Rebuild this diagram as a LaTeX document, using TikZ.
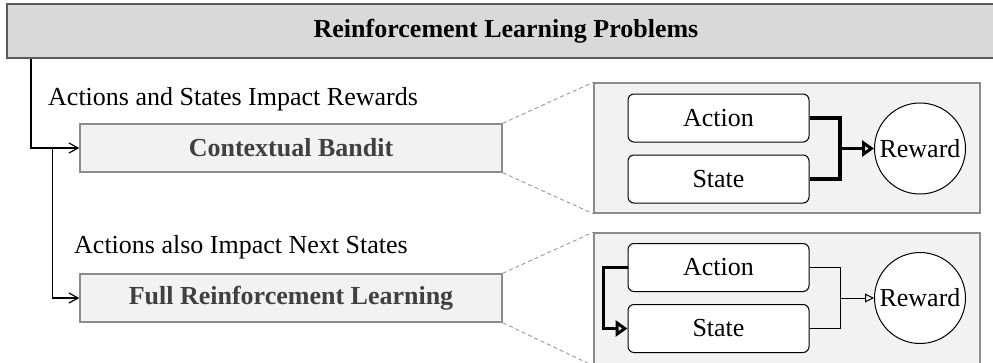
\documentclass[tikz,border=0pt]{standalone}
\usepackage{fontspec}
\setmainfont{Liberation Serif}
\usetikzlibrary{arrows.meta,positioning}
\definecolor{barfill}{HTML}{D9D9D9}
\definecolor{bardraw}{HTML}{5A5A5A}
\definecolor{boxfill}{HTML}{F2F2F2}
\definecolor{boxdraw}{HTML}{8C8C8C}
\definecolor{kindtext}{HTML}{404040}
\tikzset{
	every node/.style={font=\fontsize{26}{30}\selectfont},
	topbar/.style={draw=bardraw,fill=barfill,line width=2pt,minimum width=998pt,minimum height=54pt,font=\fontsize{26}{30}\selectfont\bfseries},
	kind/.style={draw=boxdraw,fill=boxfill,line width=1.5pt,minimum width=422pt,minimum height=48pt,text=kindtext,font=\fontsize{26}{30}\selectfont\bfseries},
	panel/.style={draw=boxdraw,fill=boxfill,line width=1.5pt,minimum width=386pt,minimum height=130pt},
	var/.style={draw,fill=white,rounded corners=6pt,line width=1pt,minimum width=181pt,minimum height=48pt},
	goal/.style={draw,fill=white,circle,line width=1pt,minimum size=91pt,inner sep=0pt},
	link/.style={line width=1.2pt,-{Straight Barb[length=9pt,width=10pt]}},
	zoomline/.style={draw=boxdraw,line width=0.8pt,dash pattern=on 4pt off 3pt},
	heavy/.style={line width=3.5pt},
	light/.style={line width=1pt},
	bigtip/.style={-{Triangle[open,length=12pt,width=16pt]}}
}
\begin{document}
\begin{tikzpicture}[x=1pt,y=-1pt]
	\useasboundingbox (0,0) rectangle (993,362);
	\node[topbar] (bar) at (506,31) {Reinforcement Learning Problems};
	\node[kind] (bandit) at (291,148) {Contextual Bandit};
	\node[kind] (fullrl) at (291,298) {Full Reinforcement Learning};
	\node[anchor=base west,inner sep=0pt] (lab1) at (48,105) {Actions and States Impact Rewards};
	\node[anchor=base west,inner sep=0pt] (lab2) at (74,253) {Actions also Impact Next States};
	\draw[link] (bar.south west) ++(25,0) |- (bandit.west);
	\draw[link] (bandit.west) ++(-27,0) |- (fullrl.west);
	% zoomed panels
	\node[panel] (pan1) at (787,148) {};
	\node[panel,minimum height=132pt] (pan2) at (787,299) {};
	\draw[zoomline] (bandit.north east) -- (pan1.north west);
	\draw[zoomline] (bandit.south east) -- (pan1.south west);
	\draw[zoomline] (fullrl.north east) -- (pan2.north west);
	\draw[zoomline] (fullrl.south east) -- (pan2.south west);
	\node[var] (act1) at (718.5,118) {Action};
	\node[var] (st1) at (718.5,179) {State};
	\node[goal] (rew1) at (920,148.5) {Reward};
	\coordinate (join1) at (840,148.5);
	\draw[heavy] (act1.east) -| (join1) |- (st1.east);
	\draw[heavy,bigtip] (join1) -- (rew1.west);
	\node[var] (act2) at (718.5,267.5) {Action};
	\node[var] (st2) at (718.5,328.5) {State};
	\node[goal] (rew2) at (920,298) {Reward};
	\coordinate (join2) at (840,298);
	\draw[light] (act2.east) -| (join2) |- (st2.east);
	\draw[light,-{Triangle[open,length=9pt,width=9pt]}] (join2) -- (rew2.west);
	\draw[heavy,bigtip] (act2.west) -- ++(-24,0) |- (st2.west);
\end{tikzpicture}
\end{document}
